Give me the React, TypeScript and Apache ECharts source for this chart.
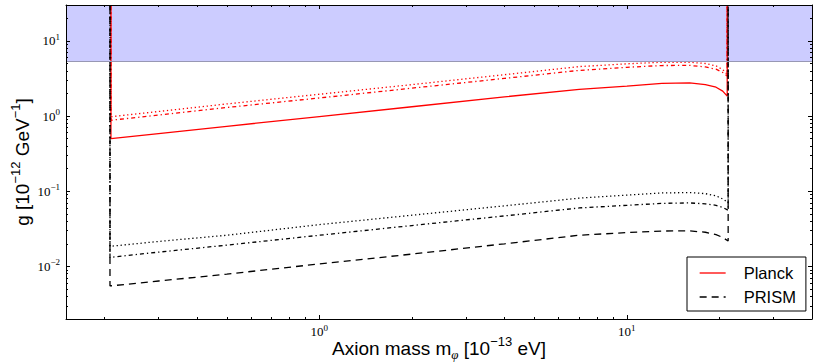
import { useEffect, useRef } from 'react';
import * as echarts from 'echarts';

// Axion mass (10^-13 eV), interior sample points shared by all curves
const MASS = [0.3, 0.5, 1, 2, 4, 7, 10, 13, 16, 18, 19.5, 20.5];
// left / right edge masses where the curves turn vertical
const RED_EDGES = [0.21, 21.2];
const BLACK_EDGES = [0.2085, 21.35];
// coupling g (10^-12 GeV^-1): [left edge, ...MASS, right edge]
const PLANCK_SOLID = [0.5, 0.585, 0.73, 0.985, 1.33, 1.8, 2.27, 2.5, 2.72, 2.77, 2.62, 2.42, 2.15, 1.84];
const PLANCK_DOTTED = [0.98, 1.15, 1.45, 1.95, 2.62, 3.55, 4.55, 4.95, 5.2, 5.2, 5.0, 4.65, 4.15, 3.6];
const PLANCK_DASHDOT = [0.88, 1.03, 1.3, 1.74, 2.35, 3.17, 4.05, 4.45, 4.7, 4.72, 4.5, 4.2, 3.8, 3.4];
const PRISM_DOTTED = [0.0185, 0.0215, 0.026, 0.036, 0.048, 0.064, 0.081, 0.089, 0.095, 0.096, 0.093, 0.087, 0.079, 0.071];
const PRISM_DASHDOT = [0.0132, 0.0155, 0.0192, 0.026, 0.035, 0.047, 0.06, 0.065, 0.069, 0.07, 0.068, 0.065, 0.061, 0.056];
const PRISM_DASHED = [0.0055, 0.0064, 0.0079, 0.0108, 0.0146, 0.02, 0.026, 0.0282, 0.0296, 0.0297, 0.0285, 0.0265, 0.0243, 0.0218];
const CURVE_TOP = 30;
// excluded band
const BAND = [5.3, 30];

const X_RANGE = [0.15, 40];
const Y_RANGE = [0.002, 30];
const X_MAJOR = [1, 10];
const X_MINOR = [0.2, 0.3, 0.4, 0.5, 0.6, 0.7, 0.8, 0.9, 2, 3, 4, 5, 6, 7, 8, 9, 20, 30];
const Y_MAJOR = [0.01, 0.1, 1, 10];
const Y_MINOR = [
  0.003, 0.004, 0.005, 0.006, 0.007, 0.008, 0.009,
  0.02, 0.03, 0.04, 0.05, 0.06, 0.07, 0.08, 0.09,
  0.2, 0.3, 0.4, 0.5, 0.6, 0.7, 0.8, 0.9,
  2, 3, 4, 5, 6, 7, 8, 9, 20,
];

const SANS = 'Liberation Sans';
const SERIF = 'Liberation Serif';

function curve(edges: number[], values: number[]) {
  const pts: number[][] = [[edges[0], CURVE_TOP], [edges[0], values[0]]];
  MASS.forEach((m, i) => pts.push([m, values[i + 1]]));
  pts.push([edges[1], values[values.length - 1]]);
  pts.push([edges[1], CURVE_TOP]);
  return pts;
}

const powLabel = (v: number) => {
  const e = Math.round(Math.log10(v));
  return `{b|10}{s|${e < 0 ? '\u2212' + -e : e}}`;
};

const labelRich = {
  b: { fontFamily: SERIF, fontSize: 13, lineHeight: 17, color: '#000' },
  s: { fontFamily: SERIF, fontSize: 9, lineHeight: 11, verticalAlign: 'top', color: '#000' },
};

const nameRich = {
  t: { fontFamily: SANS, fontSize: 19, lineHeight: 26, color: '#000' },
  sup: { fontFamily: SANS, fontSize: 13, lineHeight: 13, verticalAlign: 'top', color: '#000' },
  sub: { fontFamily: SERIF, fontStyle: 'italic', fontSize: 13, lineHeight: 13, verticalAlign: 'bottom', color: '#000' },
};

const DOTTED = [1.3, 2.7];
const DASHDOT = [4, 3, 1.3, 3];
const DASHED = [7, 5];

function lineSeries(name: string, data: number[][], color: string, type: any, z: number) {
  return {
    name,
    type: 'line',
    data,
    xAxisIndex: 0,
    yAxisIndex: 0,
    symbol: 'none',
    showSymbol: false,
    clip: true,
    z,
    lineStyle: { color, width: 1.3, type, cap: 'butt' },
    itemStyle: { color },
  };
}

function makeX(position: string, ticks: number[], len: number, main: boolean) {
  return {
    type: 'log',
    logBase: 10,
    min: X_RANGE[0],
    max: X_RANGE[1],
    position,
    z: 5,
    axisLine: { show: main, lineStyle: { color: '#000', width: 1 } },
    axisTick: { show: true, inside: true, length: len, customValues: ticks, lineStyle: { color: '#000', width: 1 } },
    axisLabel: main && position === 'bottom'
      ? { show: true, customValues: X_MAJOR, formatter: powLabel, margin: 4, rich: labelRich }
      : { show: false },
    splitLine: { show: false },
    minorTick: { show: false },
    minorSplitLine: { show: false },
  };
}

function makeY(position: string, ticks: number[], len: number, main: boolean) {
  return {
    type: 'log',
    logBase: 10,
    min: Y_RANGE[0],
    max: Y_RANGE[1],
    position,
    z: 5,
    axisLine: { show: main, lineStyle: { color: '#000', width: 1 } },
    axisTick: { show: true, inside: true, length: len, customValues: ticks, lineStyle: { color: '#000', width: 1 } },
    axisLabel: main && position === 'left'
      ? { show: true, customValues: Y_MAJOR, formatter: powLabel, margin: 6, align: 'right', rich: labelRich }
      : { show: false },
    splitLine: { show: false },
    minorTick: { show: false },
    minorSplitLine: { show: false },
  };
}

export default function App() {
  const ref = useRef<HTMLDivElement>(null);
  useEffect(() => {
    if (!ref.current) return;
    const chart = echarts.init(ref.current, undefined, { renderer: 'svg' });
    const xAxes: any[] = [
      makeX('bottom', X_MAJOR, 4, true),
      makeX('bottom', X_MINOR, 2, false),
      makeX('top', X_MAJOR, 4, true),
      makeX('top', X_MINOR, 2, false),
    ];
    xAxes[0].name = '{t|Axion mass m}{sub|\u03c6}{t| [10}{sup|\u221213}{t| eV]}';
    xAxes[0].nameLocation = 'middle';
    xAxes[0].nameGap = 16;
    xAxes[0].nameMoveOverlap = false;
    xAxes[0].nameTextStyle = { rich: nameRich };
    const yAxes: any[] = [
      makeY('left', Y_MAJOR, 4, true),
      makeY('left', Y_MINOR, 2, false),
      makeY('right', Y_MAJOR, 4, true),
      makeY('right', Y_MINOR, 2, false),
    ];
    yAxes[0].name = '{t|g [10}{sup|\u221212}{t| GeV}{sup|\u22121}{t|]}';
    yAxes[0].nameLocation = 'middle';
    yAxes[0].nameGap = 31;
    yAxes[0].nameMoveOverlap = false;
    yAxes[0].nameTextStyle = { rich: nameRich };

    const solid = lineSeries('Planck', curve(RED_EDGES, PLANCK_SOLID), '#ff0000', 'solid', 3) as any;
    solid.markArea = {
      silent: true,
      itemStyle: { color: 'rgba(0,0,255,0.2)', borderWidth: 0 },
      data: [[{ xAxis: X_RANGE[0], yAxis: BAND[0] }, { xAxis: X_RANGE[1], yAxis: BAND[1] }]],
    };
    solid.markLine = {
      silent: true,
      symbol: 'none',
      label: { show: false },
      lineStyle: { color: '#9898b4', width: 1, type: 'solid' },
      data: [{ yAxis: BAND[0] }],
    };

    chart.setOption({
      animation: false,
      backgroundColor: '#fff',
      grid: { left: 66, right: 6, top: 5, bottom: 44, containLabel: false, outerBoundsMode: 'none' },
      legend: {
        data: ['Planck', 'PRISM'],
        orient: 'vertical',
        left: 687,
        top: 257,
        padding: [7, 10, 5, 12],
        itemGap: 6,
        itemWidth: 26,
        itemHeight: 14,
        backgroundColor: '#fff',
        borderColor: '#000',
        borderWidth: 1,
        borderRadius: 0,
        itemStyle: { color: 'rgba(0,0,0,0)', borderColor: 'rgba(0,0,0,0)', borderWidth: 0, opacity: 0 },
        lineStyle: { width: 1.3 },
        textStyle: { fontFamily: SANS, fontSize: 16.5, lineHeight: 18, color: '#000', padding: [0, 0, 0, 13] },
        z: 10,
      },
      xAxis: xAxes,
      yAxis: yAxes,
      series: [
        solid,
        lineSeries('Planck dotted', curve(RED_EDGES, PLANCK_DOTTED), '#ff0000', DOTTED, 3),
        lineSeries('Planck dash-dot', curve(RED_EDGES, PLANCK_DASHDOT), '#ff0000', DASHDOT, 3),
        lineSeries('PRISM', curve(BLACK_EDGES, PRISM_DASHED), '#000000', DASHED, 4),
        lineSeries('PRISM dotted', curve(BLACK_EDGES, PRISM_DOTTED), '#000000', DOTTED, 4),
        lineSeries('PRISM dash-dot', curve(BLACK_EDGES, PRISM_DASHDOT), '#000000', DASHDOT, 4),
      ],
    });
    return () => chart.dispose();
  }, []);
  return <div ref={ref} style={{ position: 'fixed', left: 0, top: 0, width: 818, height: 363 }} />;
}
